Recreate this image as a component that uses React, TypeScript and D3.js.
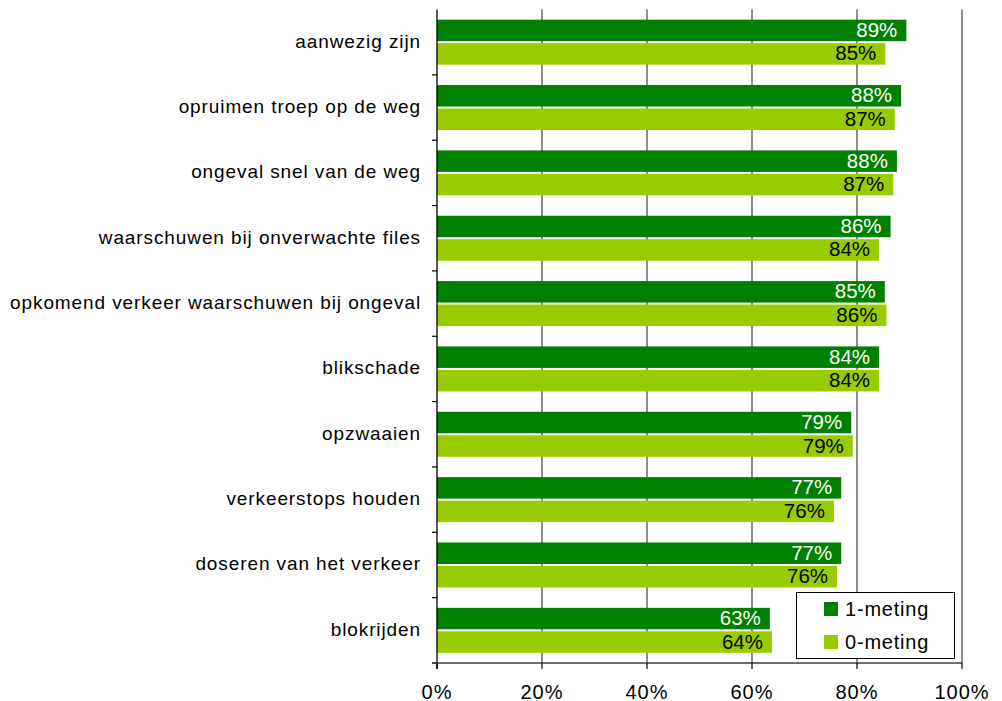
import React from "react";
import * as d3 from "d3";

const categories = [
  "aanwezig zijn",
  "opruimen troep op de weg",
  "ongeval snel van de weg",
  "waarschuwen bij onverwachte files",
  "opkomend verkeer waarschuwen bij ongeval",
  "blikschade",
  "opzwaaien",
  "verkeerstops houden",
  "doseren van het verkeer",
  "blokrijden",
];
const meting1 = [89.4, 88.4, 87.6, 86.4, 85.3, 84.2, 78.9, 77.0, 77.0, 63.4];
const meting0 = [85.4, 87.2, 86.9, 84.2, 85.6, 84.2, 79.2, 75.6, 76.2, 63.8];
const seriesNames = ["1-meting", "0-meting"];
const seriesColors = ["#008000", "#99CC00"];
const labelColors = ["#ffffff", "#000000"];
const ticks = [0, 20, 40, 60, 80, 100];

const W = 1002;
const H = 701;
const left = 437;
const right = 962;
const top = 9.5;
const bottom = 663;
const FONT = "'Liberation Sans', Arial, sans-serif";

export default function App() {
  const x = d3.scaleLinear().domain([0, 100]).range([left, right]);
  const y = d3.scaleBand<string>().domain(categories).range([top, bottom]);
  const bh = y.bandwidth();
  const barH = 21.5;
  const gap = 2;
  const offs = (bh - 2 * barH - gap) / 2;
  const series = [meting1, meting0];

  return (
    <svg
      width={W}
      height={H}
      style={{ position: "absolute", left: 0, top: 0, background: "#fff" }}
      fontFamily={FONT}
    >
      {/* gridlines */}
      {ticks.slice(1).map((t) => (
        <line key={"g" + t} x1={x(t)} x2={x(t)} y1={top} y2={bottom} stroke="#404040" strokeWidth={1.2} />
      ))}
      {/* bars */}
      {categories.map((c, i) =>
        series.map((s, k) => {
          const by = (y(c) as number) + offs + k * (barH + gap);
          return (
            <g key={c + k}>
              <rect x={x(0)} y={by} width={x(s[i]) - x(0)} height={barH} fill={seriesColors[k]} />
              <text
                x={x(s[i]) - 9}
                y={by + barH / 2 + 6.5}
                textAnchor="end"
                fontSize={20.5}
                fill={labelColors[k]}
              >
                {Math.round(s[i])}%
              </text>
            </g>
          );
        })
      )}
      {/* y axis */}
      <line x1={left} x2={left} y1={top} y2={bottom + 6} stroke="#000" strokeWidth={1.3} />
      {categories.map((c) => (
        <g key={"yl" + c}>
          <line x1={left - 5} x2={left} y1={(y(c) as number) + bh} y2={(y(c) as number) + bh} stroke="#000" strokeWidth={1.2} />
          <text
            x={421}
            y={(y(c) as number) + bh / 2 + 5.5}
            textAnchor="end"
            fontSize={19}
            letterSpacing={0.9}
            fill="#000"
          >
            {c}
          </text>
        </g>
      ))}
      {/* x axis */}
      <line x1={left - 5} x2={right} y1={bottom} y2={bottom} stroke="#404040" strokeWidth={1.3} />
      {ticks.map((t) => (
        <g key={"xt" + t}>
          <line x1={x(t)} x2={x(t)} y1={bottom} y2={bottom + 6} stroke="#000" strokeWidth={1.2} />
          <text x={x(t)} y={699} textAnchor="middle" fontSize={20} letterSpacing={1} fill="#000">
            {t}%
          </text>
        </g>
      ))}
      {/* legend */}
      <g>
        <rect x={796.5} y={592.5} width={158} height={66} fill="#fff" stroke="#000" strokeWidth={1} />
        {seriesNames.map((n, k) => (
          <g key={n}>
            <rect x={824} y={602 + k * 33} width={14} height={14} fill={seriesColors[k]} />
            <text x={845} y={616 + k * 33} fontSize={20} letterSpacing={0.8} fill="#000">
              {n}
            </text>
          </g>
        ))}
      </g>
    </svg>
  );
}
